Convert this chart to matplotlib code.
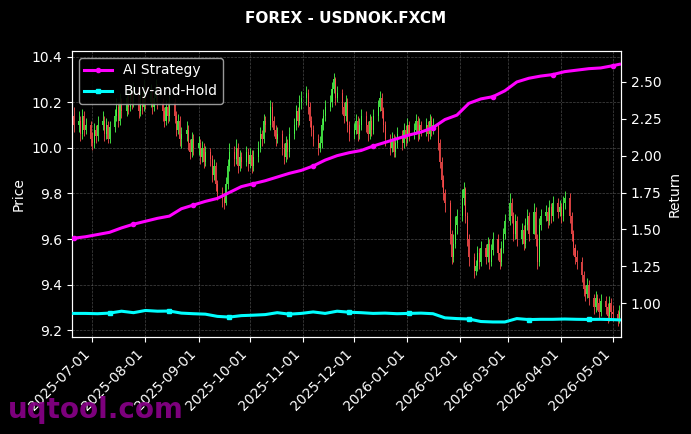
import numpy as np
import pandas as pd
import matplotlib
matplotlib.use("Agg")
import matplotlib.pyplot as plt
import matplotlib.dates as mdates

# ---------------- data ----------------
first_open = 10.14
closes = [
    10.10,
    10.12, 10.06, 10.14, 10.08, 10.10,
    10.04, 10.02, 10.08, 10.05, 10.10,
    10.12, 10.06, 10.10, 10.04, 10.09,
    10.14, 10.18, 10.12, 10.20, 10.16,
    10.22, 10.18, 10.24, 10.20, 10.26,
    10.16, 10.22, 10.18, 10.25, 10.20,
    10.24, 10.18, 10.22, 10.26, 10.20,
    10.16, 10.12, 10.18, 10.14, 10.20,
    10.14, 10.08, 10.12, 10.04, 10.06,
    10.08, 10.02, 9.98, 10.04, 10.00,
    10.02, 9.96, 10.00, 9.94, 9.98,
    9.95, 9.88, 9.92, 9.84, 9.80,
    9.78, 9.76, 9.84, 9.92, 9.98,
    9.95, 10.00, 9.92, 9.96, 9.94,
    9.98, 9.93, 9.97, 9.92, 9.96,
    10.00, 10.06, 10.04, 10.12, 10.10,
    10.18, 10.12, 10.08, 10.04, 10.06,
    10.00, 9.96, 10.02, 9.98, 10.06,
    10.10, 10.16, 10.12, 10.20, 10.22,
    10.24, 10.18, 10.12, 10.08, 10.04,
    10.00, 10.02, 10.10, 10.14, 10.18,
    10.20, 10.26, 10.30, 10.22, 10.24,
    10.18, 10.14, 10.20, 10.10, 10.06,
    10.08, 10.12, 10.06, 10.10, 10.14,
    10.10, 10.06, 10.12, 10.08, 10.14,
    10.18, 10.22, 10.16, 10.10, 10.04,
    10.00, 10.04, 9.98, 10.02, 10.06,
    10.02, 10.08, 10.04, 10.10, 10.06,
    10.08, 10.12, 10.06, 10.10, 10.08,
    10.10, 10.06, 10.12, 10.08, 10.10,
    10.02, 9.94, 9.86, 9.80, 9.76,
    9.62, 9.52, 9.58, 9.66, 9.70,
    9.78, 9.82, 9.70, 9.60, 9.52,
    9.46, 9.48, 9.54, 9.50, 9.56,
    9.52, 9.58, 9.50, 9.55, 9.60,
    9.54, 9.50, 9.56, 9.62, 9.68,
    9.76, 9.70, 9.62, 9.68, 9.60,
    9.64, 9.58, 9.66, 9.70, 9.62,
    9.72, 9.60, 9.50, 9.66, 9.70,
    9.72, 9.68, 9.74, 9.70, 9.76,
    9.72, 9.74, 9.70, 9.76, 9.78,
    9.70, 9.62, 9.56, 9.52, 9.50,
    9.44, 9.38, 9.36, 9.40, 9.34,
    9.30, 9.34, 9.32, 9.28, 9.33,
    9.30, 9.26, 9.32, 9.28, 9.27,
    9.25, 9.28,
]
highs = [
    10.18,
    10.16, 10.14, 10.17, 10.16, 10.13,
    10.12, 10.07, 10.11, 10.10, 10.14,
    10.16, 10.14, 10.13, 10.12, 10.12,
    10.17, 10.22, 10.20, 10.24, 10.22,
    10.25, 10.24, 10.27, 10.26, 10.29,
    10.27, 10.25, 10.24, 10.30, 10.27,
    10.28, 10.26, 10.25, 10.30, 10.28,
    10.22, 10.18, 10.21, 10.20, 10.23,
    10.22, 10.16, 10.15, 10.14, 10.09,
    10.12, 10.10, 10.04, 10.07, 10.06,
    10.05, 10.04, 10.03, 10.02, 10.01,
    10.00, 9.97, 9.95, 9.94, 9.86,
    9.83, 9.80, 9.87, 9.95, 10.02,
    10.01, 10.04, 10.02, 9.99, 9.98,
    10.01, 10.00, 10.00, 9.99, 9.99,
    10.03, 10.09, 10.08, 10.15, 10.14,
    10.21, 10.20, 10.14, 10.10, 10.09,
    10.08, 10.02, 10.05, 10.04, 10.09,
    10.13, 10.19, 10.18, 10.23, 10.25,
    10.27, 10.26, 10.20, 10.14, 10.10,
    10.06, 10.05, 10.13, 10.17, 10.21,
    10.23, 10.29, 10.33, 10.31, 10.27,
    10.26, 10.20, 10.23, 10.22, 10.12,
    10.11, 10.15, 10.14, 10.13, 10.17,
    10.16, 10.12, 10.15, 10.14, 10.17,
    10.21, 10.25, 10.24, 10.18, 10.12,
    10.06, 10.07, 10.06, 10.05, 10.09,
    10.08, 10.11, 10.10, 10.13, 10.12,
    10.11, 10.15, 10.14, 10.13, 10.12,
    10.13, 10.12, 10.15, 10.14, 10.13,
    10.11, 10.04, 9.96, 9.88, 9.82,
    9.77, 9.64, 9.62, 9.70, 9.73,
    9.82, 9.85, 9.83, 9.72, 9.62,
    9.54, 9.51, 9.57, 9.56, 9.59,
    9.58, 9.61, 9.60, 9.58, 9.63,
    9.62, 9.56, 9.59, 9.65, 9.71,
    9.80, 9.78, 9.72, 9.71, 9.70,
    9.67, 9.66, 9.69, 9.73, 9.72,
    9.76, 9.74, 9.62, 9.69, 9.73,
    9.75, 9.74, 9.77, 9.76, 9.79,
    9.78, 9.77, 9.76, 9.79, 9.81,
    9.80, 9.72, 9.64, 9.58, 9.55,
    9.52, 9.46, 9.40, 9.43, 9.42,
    9.36, 9.37, 9.36, 9.34, 9.36,
    9.35, 9.32, 9.35, 9.34, 9.31,
    9.29, 9.31,
]
lows = [
    10.07,
    10.07, 10.03, 10.04, 10.05, 10.06,
    10.01, 9.99, 10.00, 10.02, 10.03,
    10.08, 10.03, 10.04, 10.02, 10.02,
    10.07, 10.12, 10.09, 10.10, 10.13,
    10.14, 10.15, 10.16, 10.17, 10.18,
    10.13, 10.14, 10.15, 10.16, 10.17,
    10.18, 10.15, 10.16, 10.20, 10.17,
    10.12, 10.09, 10.10, 10.11, 10.12,
    10.11, 10.05, 10.06, 10.01, 10.00,
    10.03, 9.99, 9.95, 9.96, 9.97,
    9.97, 9.93, 9.94, 9.91, 9.92,
    9.92, 9.85, 9.86, 9.81, 9.77,
    9.74, 9.73, 9.75, 9.82, 9.90,
    9.92, 9.93, 9.89, 9.90, 9.91,
    9.92, 9.90, 9.91, 9.89, 9.90,
    9.94, 9.98, 10.01, 10.02, 10.07,
    10.08, 10.09, 10.05, 10.01, 10.02,
    9.97, 9.93, 9.94, 9.95, 9.96,
    10.04, 10.08, 10.09, 10.10, 10.17,
    10.19, 10.15, 10.09, 10.05, 10.01,
    9.97, 9.98, 10.00, 10.08, 10.12,
    10.16, 10.18, 10.24, 10.19, 10.20,
    10.15, 10.11, 10.12, 10.07, 10.03,
    10.04, 10.06, 10.03, 10.04, 10.08,
    10.07, 10.03, 10.04, 10.05, 10.06,
    10.12, 10.16, 10.13, 10.07, 10.01,
    9.97, 9.98, 9.96, 9.96, 10.00,
    9.99, 10.00, 10.01, 10.02, 10.03,
    10.04, 10.06, 10.03, 10.04, 10.05,
    10.05, 10.03, 10.04, 10.05, 10.06,
    9.99, 9.91, 9.83, 9.77, 9.72,
    9.58, 9.49, 9.50, 9.56, 9.62,
    9.68, 9.75, 9.67, 9.57, 9.48,
    9.43, 9.44, 9.46, 9.47, 9.48,
    9.49, 9.50, 9.47, 9.48, 9.53,
    9.51, 9.47, 9.48, 9.54, 9.60,
    9.66, 9.67, 9.59, 9.60, 9.57,
    9.58, 9.55, 9.56, 9.64, 9.59,
    9.62, 9.57, 9.47, 9.48, 9.64,
    9.68, 9.65, 9.66, 9.67, 9.68,
    9.69, 9.70, 9.67, 9.68, 9.73,
    9.67, 9.59, 9.53, 9.49, 9.47,
    9.41, 9.35, 9.33, 9.34, 9.31,
    9.27, 9.28, 9.29, 9.25, 9.26,
    9.27, 9.23, 9.24, 9.25, 9.24,
    9.22, 9.23,
]

# weekly readings of the two return curves (Fridays, last = final day)
ret_dates = ["2025-06-20", "2025-06-27", "2025-07-04", "2025-07-11", "2025-07-18",
             "2025-07-25", "2025-08-01", "2025-08-08", "2025-08-15", "2025-08-22",
             "2025-08-29", "2025-09-05", "2025-09-12", "2025-09-19", "2025-09-26",
             "2025-10-03", "2025-10-10", "2025-10-17", "2025-10-24", "2025-10-31",
             "2025-11-07", "2025-11-14", "2025-11-21", "2025-11-28", "2025-12-05",
             "2025-12-12", "2025-12-19", "2025-12-26", "2026-01-02", "2026-01-09",
             "2026-01-16", "2026-01-23", "2026-01-30", "2026-02-06", "2026-02-13",
             "2026-02-20", "2026-02-27", "2026-03-06", "2026-03-13", "2026-03-20",
             "2026-03-27", "2026-04-03", "2026-04-10", "2026-04-17", "2026-04-24",
             "2026-05-01", "2026-05-05"]
ai_strategy = [1.44, 1.45, 1.465, 1.48, 1.51, 1.535, 1.555, 1.575, 1.59, 1.64,
               1.665, 1.69, 1.71, 1.75, 1.79, 1.81, 1.83, 1.855, 1.88, 1.90,
               1.93, 1.97, 2.00, 2.02, 2.035, 2.065, 2.09, 2.115, 2.14, 2.16,
               2.19, 2.245, 2.275, 2.355, 2.385, 2.40, 2.44, 2.50, 2.525, 2.54,
               2.55, 2.57, 2.58, 2.59, 2.595, 2.61, 2.62]
buy_hold = [0.930, 0.930, 0.928, 0.932, 0.945, 0.935, 0.950, 0.945, 0.946, 0.932,
            0.928, 0.925, 0.910, 0.905, 0.915, 0.918, 0.922, 0.935, 0.925, 0.930,
            0.940, 0.930, 0.945, 0.938, 0.935, 0.930, 0.932, 0.928, 0.930, 0.932,
            0.928, 0.900, 0.895, 0.892, 0.875, 0.872, 0.872, 0.895, 0.888, 0.890,
            0.890, 0.892, 0.890, 0.889, 0.890, 0.888, 0.886]

# ---------------- plotting ----------------
dates = pd.bdate_range("2025-06-20", periods=len(closes))
opens = [first_open] + closes[:-1]
closes_a = np.array(closes)
opens_a = np.array(opens)
up = closes_a >= opens_a
green = "#4cff4c"
red = "#ff4d4d"
colors = np.where(up, green, red)

fig = plt.figure(figsize=(6.91, 4.34), dpi=100, facecolor="black")
ax = fig.add_axes([0.104, 0.2235, 0.795, 0.659])
ax.set_facecolor("black")

ax.vlines(dates, lows, highs, colors=colors, linewidth=0.7, alpha=0.85, zorder=2)
bottoms = np.minimum(opens_a, closes_a)
heights = np.abs(closes_a - opens_a)
ax.bar(dates, heights, bottom=bottoms, width=0.6, color=colors, alpha=0.85,
       linewidth=0, zorder=2)

ax.set_ylim(9.17, 10.425)
ax.set_xlim(dates[0] - pd.Timedelta(days=1), dates[-1] + pd.Timedelta(days=1))
ax.set_ylabel("Price", color="white", fontsize=10)
ax.grid(True, color="#777777", linestyle="--", linewidth=0.5, alpha=0.6)
ax.xaxis.set_major_locator(mdates.MonthLocator())
ax.xaxis.set_major_formatter(mdates.DateFormatter("%Y-%m-%d"))
for lbl in ax.get_xticklabels():
    lbl.set_rotation(45)
    lbl.set_ha("right")
ax.tick_params(colors="white", labelsize=10)
for sp in ax.spines.values():
    sp.set_color("white")

ax2 = ax.twinx()
rd = pd.to_datetime(ret_dates)
l1, = ax2.plot(rd, ai_strategy, color="#ff00ff", linewidth=2.2, marker="o",
               markersize=3, markevery=5, label="AI Strategy", zorder=5)
l2, = ax2.plot(rd, buy_hold, color="#00ffff", linewidth=2.2, marker="s",
               markersize=3.5, markevery=(3, 5), label="Buy-and-Hold", zorder=5)
ax2.set_ylim(0.77, 2.71)
ax2.set_ylabel("Return", color="white", fontsize=10)
ax2.tick_params(colors="white", labelsize=10)
for sp in ax2.spines.values():
    sp.set_color("white")

leg = ax2.legend(handles=[l1, l2], loc="upper left", facecolor="black",
                 edgecolor="#aaaaaa", fontsize=10, framealpha=0.9)
for t in leg.get_texts():
    t.set_color("white")

fig.suptitle("FOREX - USDNOK.FXCM", color="white", fontsize=11,
             fontweight="bold", y=0.975)
fig.text(0.012, 0.038, "uqtool.com", color="#8b008b", fontsize=20,
         fontweight="bold", alpha=0.9)

fig.savefig("out.png", dpi=100, facecolor="black")
